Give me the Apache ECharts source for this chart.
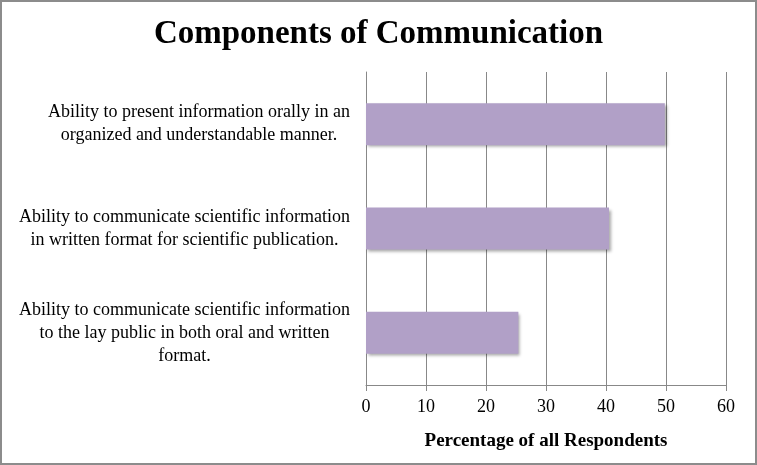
<!DOCTYPE html>
<html lang="en">
<head>
    <meta charset="UTF-8">
    <title>Components of Communication</title>
    <script type="text/javascript" src="https://cdn.jsdelivr.net/npm/echarts@6/dist/echarts.min.js"></script>
    <style>
        html, body { margin: 0; padding: 0; background: #fff; }
        #charts { width: 757px; height: 465px; box-sizing: border-box; border: 2px solid #8c8c8c; }
    </style>
</head>
<body>
<div id="charts"></div>
<script>
    // categories, top to bottom
    var categories = [
        "Ability to present information orally in an\norganized and understandable manner.",
        "Ability to communicate scientific information\nin written format for scientific publication.",
        "Ability to communicate scientific information\nto the lay public in both oral and written\nformat."
    ]
    var percents = [49.8, 40.5, 25.4]
    var xTicks = [0, 10, 20, 30, 40, 50, 60]

    var serif = "'Liberation Serif', 'DejaVu Serif', serif"
    var chart = echarts.init(document.getElementById("charts"), null, {renderer: 'canvas'})
    chart.setOption({
        animation: false,
        title: {
            text: "Components of Communication",
            left: 'center',
            top: 11,
            textStyle: {fontFamily: serif, fontSize: 33, fontWeight: 'bold', color: '#000'}
        },
        grid: {left: 364, right: 29, top: 70, bottom: 78},
        xAxis: {
            type: 'value',
            min: xTicks[0],
            max: xTicks[xTicks.length - 1],
            interval: 10,
            name: "Percentage of all Respondents",
            nameLocation: 'middle',
            nameGap: 47,
            nameTextStyle: {fontFamily: serif, fontSize: 19, fontWeight: 'bold', color: '#000'},
            axisLine: {show: true, lineStyle: {color: '#888', width: 1}},
            axisTick: {show: true, length: 6, lineStyle: {color: '#888'}},
            axisLabel: {margin: 13, fontFamily: serif, fontSize: 18, color: '#000'},
            splitLine: {show: true, lineStyle: {color: '#888', width: 1}}
        },
        yAxis: {
            type: 'category',
            inverse: true,
            data: categories,
            axisLine: {show: true, lineStyle: {color: '#888', width: 1}},
            axisTick: {show: false},
            axisLabel: {
                margin: 16,
                align: 'right',
                formatter: function (v) { return '{c|' + v + '}' },
                rich: {c: {align: 'center', fontFamily: serif, fontSize: 18, lineHeight: 23, color: '#000'}}
            }
        },
        series: [{
            type: 'bar',
            data: percents,
            barWidth: 42,
            itemStyle: {
                color: '#b1a0c7',
                shadowColor: 'rgba(0,0,0,0.35)',
                shadowBlur: 3,
                shadowOffsetX: 2,
                shadowOffsetY: 2
            }
        }]
    })
</script>
</body>
</html>
